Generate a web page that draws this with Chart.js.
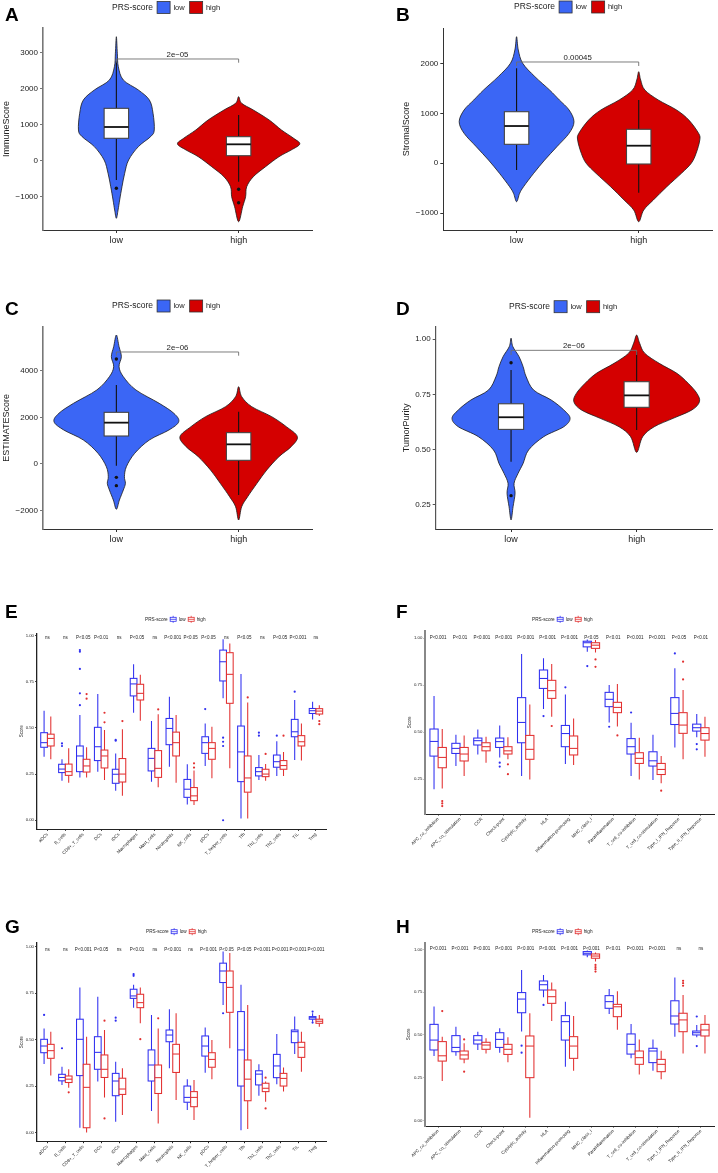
<!DOCTYPE html>
<html>
<head>
<meta charset="utf-8">
<title>PRS-score immune landscape</title>
<script src="https://cdn.jsdelivr.net/npm/chart.js@4.4.1/dist/chart.umd.min.js"></script>
<style>
  html, body { margin: 0; padding: 0; background: #fff; }
  #page { position: relative; width: 718px; height: 1173px; overflow: hidden; background: #fff; }
  canvas { position: absolute; }
</style>
</head>
<body>
<div id="page">
  <canvas id="panelA" width="359" height="290" style="left:0;top:0"></canvas>
  <canvas id="panelB" width="359" height="290" style="left:359px;top:0"></canvas>
  <canvas id="panelC" width="359" height="290" style="left:0;top:290px"></canvas>
  <canvas id="panelD" width="359" height="290" style="left:359px;top:290px"></canvas>
  <canvas id="panelE" width="359" height="290" style="left:0;top:590px"></canvas>
  <canvas id="panelF" width="359" height="290" style="left:359px;top:590px"></canvas>
  <canvas id="panelG" width="359" height="293" style="left:0;top:880px"></canvas>
  <canvas id="panelH" width="359" height="293" style="left:359px;top:880px"></canvas>
</div>
<script>
// ---------- data ----------
const groups = ['low', 'high'];
const legendTitle = 'PRS-score';

// violin outlines, top to bottom: [score, half width in category units]
const immuneLowShape = [[3433,0],[2972,0.008],[2600,0.016],[2230,0.057],[1953,0.18],[1675,0.27],[1305,0.30],[842,0.31],[657,0.28],[380,0.18],[8,0.10],[-361,0.068],[-733,0.046],[-1103,0.027],[-1380,0.014],[-1611,0]];
const immuneHighShape = [[1767,0],[1583,0.025],[1397,0.12],[1119,0.25],[842,0.35],[611,0.45],[453,0.5],[286,0.43],[100,0.33],[-178,0.22],[-456,0.12],[-733,0.066],[-1011,0.057],[-1289,0.033],[-1706,0]];
const stromalLowShape = [[2547,0],[2280,0.014],[2012,0.05],[1743,0.15],[1475,0.27],[1274,0.35],[1072,0.43],[837,0.47],[604,0.43],[334,0.33],[66,0.23],[-201,0.14],[-471,0.057],[-604,0.025],[-773,0]];
const stromalHighShape = [[1843,0],[1676,0.016],[1475,0.05],[1274,0.16],[1072,0.31],[871,0.41],[604,0.49],[469,0.5],[201,0.47],[0,0.43],[-201,0.35],[-471,0.23],[-738,0.12],[-940,0.041],[-1175,0]];
const estimateLowShape = [[5548,0],[5045,0.022],[4615,0.041],[4185,0.022],[3755,0.057],[3183,0.16],[2611,0.35],[2181,0.47],[1819,0.51],[1462,0.43],[1032,0.27],[460,0.15],[-115,0.082],[-545,0.066],[-832,0.074],[-1118,0.057],[-1548,0.025],[-1948,0]];
const estimateHighShape = [[3325,0],[2896,0.025],[2466,0.107],[2036,0.27],[1605,0.39],[1175,0.48],[745,0.43],[315,0.33],[-258,0.23],[-832,0.15],[-1405,0.074],[-1835,0.025],[-2409,0]];
const purityLowShape = [[1.005,0],[0.967,0.014],[0.921,0.064],[0.876,0.096],[0.831,0.12],[0.770,0.18],[0.725,0.32],[0.680,0.42],[0.642,0.47],[0.604,0.42],[0.559,0.26],[0.499,0.14],[0.438,0.096],[0.393,0.056],[0.348,0.024],[0.303,0.032],[0.242,0.016],[0.182,0]];
const purityHighShape = [[1.019,0],[0.982,0.024],[0.937,0.064],[0.891,0.18],[0.846,0.32],[0.801,0.41],[0.755,0.48],[0.717,0.5],[0.680,0.44],[0.642,0.29],[0.604,0.14],[0.559,0.048],[0.488,0]];

// box stats: [lower whisker, q1, median, q3, upper whisker]
const immuneBoxes = [[-547, 611, 925, 1444, 2750], [-594, 128, 444, 656, 1258]];
const immuneOutliers = [[1, -778], [2, -806], [2, -1178]];
const stromalBoxes = [[-135, 382, 750, 1038, 1911], [-592, -14, 354, 684, 1274]];
const stromalOutliers = [];
const estimateBoxes = [[-72, 1204, 1778, 2222, 3398], [-1333, 158, 845, 1348, 2250]];
const estimateOutliers = [[1, 4516], [1, -574], [1, -932]];
const purityBoxes = [[0.446, 0.592, 0.647, 0.708, 0.861], [0.589, 0.692, 0.746, 0.808, 0.944]];
const purityOutliers = [[1, 0.894], [1, 0.292]];

const scoreTicksA = [-1000, 0, 1000, 2000, 3000];
const scoreLabelsA = ['−1000', '0', '1000', '2000', '3000'];
const scoreTicksB = [-1000, 0, 1000, 2000];
const scoreLabelsB = ['−1000', '0', '1000', '2000'];
const scoreTicksC = [-2000, 0, 2000, 4000];
const scoreLabelsC = ['−2000', '0', '2000', '4000'];
const purityTicks = [0.25, 0.5, 0.75, 1];
const purityLabels = ['0.25', '0.50', '0.75', '1.00'];
const fracTicks = [0, 0.25, 0.5, 0.75, 1];
const fracLabels = ['0.00', '0.25', '0.50', '0.75', '1.00'];
const fracTicksF = [0.25, 0.5, 0.75, 1];
const fracLabelsF = ['0.25', '0.50', '0.75', '1.00'];

const immuneCells = ['aDCs', 'B_cells', 'CD8+_T_cells', 'DCs', 'iDCs', 'Macrophages', 'Mast_cells', 'Neutrophils',
  'NK_cells', 'pDCs', 'T_helper_cells', 'Tfh', 'Th1_cells', 'Th2_cells', 'TIL', 'Treg'];
const immuneFunctions = ['APC_co_inhibition', 'APC_co_stimulation', 'CCR', 'Check-point', 'Cytolytic_activity', 'HLA',
  'Inflammation-promoting', 'MHC_class_I', 'Parainflammation', 'T_cell_co-inhibition', 'T_cell_co-stimulation',
  'Type_I_IFN_Reponse', 'Type_II_IFN_Reponse'];

const pE = ['ns', 'ns', 'P<0.05', 'P<0.01', 'ns', 'P<0.05', 'ns', 'P<0.001', 'P<0.05', 'P<0.05', 'ns', 'P<0.05', 'ns', 'P<0.05', 'P<0.001', 'ns'];
const pF = ['P<0.001', 'P<0.01', 'P<0.001', 'P<0.001', 'P<0.001', 'P<0.001', 'P<0.001', 'P<0.05', 'P<0.01', 'P<0.001', 'P<0.001', 'P<0.05', 'P<0.01'];
const pG = ['ns', 'ns', 'P<0.001', 'P<0.05', 'ns', 'P<0.01', 'ns', 'P<0.001', 'ns', 'P<0.001', 'P<0.05', 'P<0.05', 'P<0.001', 'P<0.001', 'P<0.001', 'P<0.001'];
const pH = ['P<0.001', 'P<0.001', 'P<0.001', 'P<0.001', 'P<0.001', 'P<0.001', 'P<0.001', 'P<0.001', 'P<0.01', 'P<0.001', 'P<0.001', 'ns', 'ns'];

const boxE_low = [[0.344,0.395,0.42,0.474,0.593],[0.214,0.258,0.277,0.303,0.33],[0.232,0.263,0.348,0.402,0.57],[0.263,0.323,0.398,0.503,0.683],
  [0.16,0.2,0.249,0.276,0.362],[0.582,0.673,0.738,0.768,0.845],[0.209,0.267,0.335,0.389,0.537],[0.29,0.409,0.497,0.551,0.669],
  [0.085,0.124,0.168,0.221,0.303],[0.294,0.362,0.42,0.452,0.524],[0.66,0.754,0.858,0.921,0.98],[0.009,0.209,0.37,0.51,0.792],
  [0.218,0.24,0.263,0.285,0.353],[0.24,0.287,0.317,0.353,0.427],[0.326,0.452,0.479,0.546,0.651],[0.546,0.578,0.593,0.605,0.642]];
const boxE_high = [[0.33,0.402,0.443,0.466,0.561],[0.203,0.243,0.263,0.304,0.39],[0.232,0.261,0.294,0.33,0.395],[0.218,0.283,0.348,0.38,0.489],
  [0.132,0.207,0.25,0.334,0.493],[0.539,0.651,0.687,0.736,0.787],[0.178,0.232,0.281,0.377,0.574],[0.203,0.348,0.42,0.477,0.57],
  [0.083,0.106,0.132,0.177,0.269],[0.227,0.33,0.389,0.42,0.506],[0.281,0.633,0.79,0.907,0.957],[0.009,0.152,0.229,0.348,0.637],
  [0.214,0.236,0.25,0.276,0.305],[0.24,0.276,0.296,0.323,0.37],[0.323,0.402,0.425,0.458,0.524],[0.564,0.575,0.591,0.604,0.623]];
const outE_low = [[2,0.416],[2,0.402],[3,0.921],[3,0.912],[3,0.819],[3,0.687],[3,0.623],[5,0.435],[5,0.431],[10,0.602],
  [11,0.447],[11,0.425],[11,0.402],[11,0.0],[13,0.474],[13,0.458],[14,0.458],[15,0.696]];
const outE_high = [[3,0.683],[3,0.658],[4,0.582],[4,0.53],[5,0.537],[7,0.6],[9,0.308],[9,0.285],[12,0.665],[13,0.359],[14,0.458],[16,0.537],[16,0.52]];

const boxF_low = [[0.195,0.372,0.45,0.516,0.691],[0.319,0.386,0.413,0.44,0.486],[0.381,0.431,0.454,0.468,0.514],[0.365,0.418,0.449,0.468,0.535],
  [0.266,0.443,0.551,0.683,0.915],[0.622,0.732,0.785,0.83,0.892],[0.33,0.422,0.492,0.535,0.7],[0.927,0.953,0.975,0.983,0.992],
  [0.551,0.635,0.674,0.711,0.75],[0.266,0.383,0.422,0.465,0.55],[0.245,0.319,0.347,0.395,0.486],[0.418,0.54,0.599,0.683,0.839],
  [0.472,0.505,0.523,0.542,0.596]];
const boxF_high = [[0.2,0.31,0.365,0.418,0.516],[0.266,0.346,0.383,0.418,0.482],[0.337,0.4,0.422,0.443,0.475],[0.355,0.383,0.4,0.422,0.472],
  [0.248,0.355,0.408,0.482,0.647],[0.581,0.679,0.72,0.775,0.862],[0.324,0.378,0.413,0.479,0.572],[0.923,0.945,0.962,0.975,0.989],
  [0.53,0.603,0.631,0.658,0.755],[0.248,0.333,0.36,0.39,0.47],[0.227,0.274,0.301,0.333,0.372],[0.355,0.493,0.537,0.603,0.723],
  [0.369,0.457,0.492,0.523,0.581]];
const outF_low = [[4,0.337],[4,0.316],[6,0.585],[7,0.738],[8,0.851],[9,0.528],[10,0.604],[12,0.918],[13,0.436],[13,0.408]];
const outF_high = [[1,0.133],[1,0.12],[1,0.106],[4,0.328],[4,0.276],[6,0.532],[8,0.886],[8,0.847],[9,0.482],[11,0.188],[12,0.874],[12,0.78]];

const boxG_low = [[0.369,0.43,0.466,0.502,0.56],[0.257,0.279,0.297,0.314,0.355],[0.027,0.307,0.502,0.61,0.781],[0.275,0.341,0.432,0.516,0.731],
  [0.059,0.199,0.278,0.319,0.382],[0.672,0.722,0.735,0.771,0.795],[0.117,0.278,0.364,0.445,0.633],[0.346,0.489,0.525,0.552,0.663],
  [0.122,0.164,0.19,0.251,0.287],[0.323,0.412,0.466,0.52,0.565],[0.687,0.807,0.869,0.911,0.974],[0.014,0.251,0.445,0.651,0.795],
  [0.199,0.257,0.315,0.333,0.368],[0.26,0.296,0.359,0.421,0.53],[0.423,0.484,0.543,0.552,0.624],[0.597,0.61,0.618,0.624,0.642]];
const boxG_high = [[0.307,0.4,0.441,0.475,0.543],[0.242,0.27,0.288,0.305,0.341],[0.002,0.027,0.244,0.368,0.516],[0.19,0.297,0.341,0.418,0.552],
  [0.095,0.206,0.235,0.293,0.346],[0.588,0.672,0.699,0.744,0.78],[0.05,0.211,0.296,0.364,0.56],[0.176,0.324,0.423,0.475,0.642],
  [0.068,0.14,0.19,0.221,0.283],[0.287,0.352,0.394,0.43,0.498],[0.454,0.647,0.781,0.869,0.965],[0.02,0.172,0.288,0.391,0.687],
  [0.167,0.221,0.239,0.266,0.275],[0.221,0.251,0.292,0.319,0.351],[0.328,0.405,0.459,0.486,0.543],[0.57,0.588,0.599,0.61,0.633]];
const outG_low = [[1,0.633],[2,0.454],[5,0.618],[5,0.602],[6,0.852],[6,0.843],[11,0.642],[16,0.651],[16,0.592]];
const outG_high = [[2,0.217],[4,0.602],[4,0.077],[6,0.503],[7,0.615],[13,0.296],[13,0.131]];

const boxH_low = [[0.377,0.412,0.47,0.562,0.666],[0.378,0.402,0.427,0.496,0.548],[0.412,0.447,0.47,0.496,0.519],[0.396,0.427,0.474,0.513,0.539],
  [0.52,0.63,0.71,0.748,0.88],[0.721,0.763,0.794,0.816,0.851],[0.314,0.47,0.578,0.613,0.695],[0.955,0.969,0.978,0.988,0.994],
  [0.623,0.656,0.695,0.73,0.769],[0.363,0.388,0.445,0.506,0.564],[0.291,0.338,0.406,0.422,0.474],[0.49,0.564,0.611,0.7,0.837],
  [0.486,0.5,0.513,0.523,0.558]];
const boxH_high = [[0.23,0.347,0.378,0.461,0.49],[0.334,0.359,0.383,0.406,0.451],[0.392,0.416,0.441,0.457,0.48],[0.34,0.386,0.416,0.445,0.486],
  [0.016,0.25,0.435,0.494,0.627],[0.582,0.685,0.724,0.763,0.807],[0.291,0.363,0.435,0.49,0.611],[0.93,0.949,0.962,0.974,0.982],
  [0.53,0.607,0.665,0.679,0.756],[0.269,0.328,0.367,0.406,0.474],[0.24,0.285,0.328,0.357,0.408],[0.392,0.519,0.588,0.627,0.734],
  [0.392,0.494,0.529,0.562,0.617]];
const outH_low = [[5,0.437],[5,0.396],[6,0.676],[13,0.608],[13,0.435]];
const outH_high = [[1,0.64],[2,0.474],[2,0.285],[8,0.91],[8,0.897],[8,0.885],[8,0.871],[12,0.817],[12,0.803],[12,0.788]];

// ---------- drawing helpers ----------
const FONT = '"Liberation Sans", Arial, Helvetica, sans-serif';
Chart.defaults.font.family = FONT;
Chart.defaults.color = '#222';

const VIOLIN_FILL = ['#3b66f5', '#d40000'];
const BOX_LINE = ['#2f2ff0', '#e23030'];
const DODGE = 0.1875;

function closedSpline(ctx, p) {
  const n = p.length;
  ctx.moveTo(p[0][0], p[0][1]);
  for (let i = 0; i < n; i++) {
    const p0 = p[(i - 1 + n) % n], p1 = p[i], p2 = p[(i + 1) % n], p3 = p[(i + 2) % n];
    ctx.bezierCurveTo(p1[0] + (p2[0] - p0[0]) / 6, p1[1] + (p2[1] - p0[1]) / 6,
      p2[0] - (p3[0] - p1[0]) / 6, p2[1] - (p3[1] - p1[1]) / 6, p2[0], p2[1]);
  }
  ctx.closePath();
}

function drawViolin(ctx, xs, ys, pos, shape, fill) {
  const cx = xs.getPixelForValue(pos);
  const unit = xs.getPixelForValue(pos + 1) - cx;
  const right = shape.map(([v, w]) => [cx + w * unit, ys.getPixelForValue(v)]);
  const left = shape.slice().reverse().map(([v, w]) => [cx - w * unit, ys.getPixelForValue(v)]);
  ctx.beginPath();
  closedSpline(ctx, right.concat(left.slice(1, -1)));
  ctx.fillStyle = fill;
  ctx.fill();
  ctx.strokeStyle = '#1a1a1a';
  ctx.lineWidth = 0.8;
  ctx.stroke();
}

function drawBox(ctx, xs, ys, b) {
  const [lo, q1, med, q3, hi] = b.stats;
  const cx = xs.getPixelForValue(b.x);
  const half = xs.getPixelForValue(b.x + b.half) - cx;
  const py = v => ys.getPixelForValue(v);
  ctx.strokeStyle = b.whisker;
  ctx.lineWidth = b.lw;
  ctx.beginPath();
  ctx.moveTo(cx, py(hi)); ctx.lineTo(cx, py(q3));
  ctx.moveTo(cx, py(q1)); ctx.lineTo(cx, py(lo));
  ctx.stroke();
  ctx.fillStyle = '#fff';
  ctx.fillRect(cx - half, py(q3), 2 * half, py(q1) - py(q3));
  ctx.strokeStyle = b.line;
  ctx.strokeRect(cx - half, py(q3), 2 * half, py(q1) - py(q3));
  ctx.strokeStyle = b.median;
  ctx.lineWidth = b.medLw;
  ctx.beginPath();
  ctx.moveTo(cx - half, py(med)); ctx.lineTo(cx + half, py(med));
  ctx.stroke();
}

function drawLetter(ctx, p) {
  ctx.font = 'bold 19px ' + FONT;
  ctx.fillStyle = '#000';
  ctx.textAlign = 'left';
  ctx.textBaseline = 'alphabetic';
  ctx.fillText(p.letter, p.letterPos[0], p.letterPos[1]);
}

function drawFillLegend(ctx, lg) {
  let x = lg.x;
  ctx.textAlign = 'left';
  ctx.textBaseline = 'middle';
  ctx.font = '8.5px ' + FONT;
  ctx.fillStyle = '#222';
  ctx.fillText(legendTitle, x, lg.y);
  x += ctx.measureText(legendTitle).width + 4;
  groups.forEach((g, i) => {
    ctx.fillStyle = VIOLIN_FILL[i];
    ctx.fillRect(x, lg.y - 6, 13, 12);
    ctx.strokeStyle = '#333';
    ctx.lineWidth = 0.8;
    ctx.strokeRect(x, lg.y - 6, 13, 12);
    x += 16.3;
    ctx.font = '7.5px ' + FONT;
    ctx.fillStyle = '#222';
    ctx.fillText(g, x, lg.y);
    x += ctx.measureText(g).width + 5;
  });
}

function drawBoxLegend(ctx, lg) {
  let x = lg.x;
  ctx.textAlign = 'left';
  ctx.textBaseline = 'middle';
  ctx.font = '4.7px ' + FONT;
  ctx.fillStyle = '#222';
  ctx.fillText(legendTitle, x, lg.y);
  x += ctx.measureText(legendTitle).width + 2.5;
  groups.forEach((g, i) => {
    ctx.strokeStyle = BOX_LINE[i];
    ctx.lineWidth = 0.8;
    ctx.strokeRect(x, lg.y - 2, 6, 4);
    ctx.beginPath();
    ctx.moveTo(x + 3, lg.y - 3.5); ctx.lineTo(x + 3, lg.y - 2);
    ctx.moveTo(x + 3, lg.y + 2); ctx.lineTo(x + 3, lg.y + 3.5);
    ctx.moveTo(x, lg.y); ctx.lineTo(x + 6, lg.y);
    ctx.stroke();
    x += 8.5;
    ctx.fillStyle = '#222';
    ctx.fillText(g, x, lg.y);
    x += ctx.measureText(g).width + 2.5;
  });
}

function panelPlugin(p) {
  return {
    id: 'panel' + p.letter,
    beforeDatasetsDraw(chart) {
      const { ctx, scales: { x, y } } = chart;
      ctx.save();
      (p.violins || []).forEach(v => drawViolin(ctx, x, y, v.pos, v.shape, v.fill));
      (p.boxes || []).forEach(b => drawBox(ctx, x, y, b));
      ctx.restore();
    },
    afterDraw(chart) {
      const { ctx, scales: { x, y } } = chart;
      ctx.save();
      if (p.bracket) {
        const x1 = x.getPixelForValue(1), x2 = x.getPixelForValue(2);
        const yTop = y.getPixelForValue(p.bracket.y), yTip = y.getPixelForValue(p.bracket.tip);
        ctx.strokeStyle = '#6e6e6e';
        ctx.lineWidth = 0.9;
        ctx.beginPath();
        ctx.moveTo(x1, yTip); ctx.lineTo(x1, yTop); ctx.lineTo(x2, yTop); ctx.lineTo(x2, yTip);
        ctx.stroke();
        ctx.fillStyle = '#222';
        ctx.font = '7.8px ' + FONT;
        ctx.textAlign = 'center';
        ctx.textBaseline = 'alphabetic';
        ctx.fillText(p.bracket.label, (x1 + x2) / 2, yTop - 2.2);
      }
      if (p.pLabels) {
        ctx.fillStyle = '#222';
        ctx.font = '4.5px ' + FONT;
        ctx.textAlign = 'center';
        ctx.textBaseline = 'middle';
        p.pLabels.forEach((t, i) => ctx.fillText(t, x.getPixelForValue(i + 1), y.getPixelForValue(p.pY)));
      }
      if (p.legendKind === 'fill') drawFillLegend(ctx, p.legend);
      else drawBoxLegend(ctx, p.legend);
      drawLetter(ctx, p);
      ctx.restore();
    }
  };
}

function scalesFor(p, W, H) {
  const cats = p.categories;
  return {
    x: {
      type: 'linear', min: 0.4, max: cats.length + 0.6,
      afterBuildTicks: s => { s.ticks = cats.map((_, i) => ({ value: i + 1 })); },
      afterFit: s => { s.height = H - p.area.bottom; },
      border: { display: true, color: p.xAxisColor, width: p.xAxisWidth },
      grid: { display: true, drawOnChartArea: false, drawTicks: true, tickLength: p.tickLen, color: p.xAxisColor },
      ticks: {
        autoSkip: false, maxRotation: p.rot, minRotation: p.rot, padding: p.xPad,
        color: '#222', font: { size: p.xFont },
        callback: v => cats[Math.round(v) - 1]
      }
    },
    y: {
      type: 'linear', min: p.yMin, max: p.yMax,
      afterBuildTicks: s => { s.ticks = p.yTicks.map(v => ({ value: v })); },
      afterFit: s => { s.width = p.area.left; },
      border: { display: true, color: p.yAxisColor, width: p.yAxisWidth },
      grid: { display: true, drawOnChartArea: false, drawTicks: true, tickLength: p.tickLen, color: p.yAxisColor },
      ticks: { padding: p.yPad, color: '#222', font: { size: p.yFont }, callback: (v, i) => p.yTickLabels[i] },
      title: { display: true, text: p.yTitle, color: '#222', font: { size: p.titleFont }, padding: { top: p.titlePad, bottom: 0 } }
    }
  };
}

function buildChart(p, datasets) {
  const el = document.getElementById(p.canvas);
  const W = el.width, H = el.height;
  return new Chart(el, {
    type: 'scatter',
    data: { datasets },
    options: {
      responsive: false,
      animation: false,
      devicePixelRatio: 1,
      layout: { padding: { left: 0, top: p.area.top, right: W - p.area.right, bottom: 0 } },
      plugins: { legend: { display: false }, tooltip: { enabled: false } },
      scales: scalesFor(p, W, H)
    },
    plugins: [panelPlugin(p)]
  });
}

function violinPanel(p) {
  p.categories = groups;
  p.legendKind = 'fill';
  p.rot = 0; p.xPad = 2; p.tickLen = 3; p.yPad = 2;
  p.xFont = 9; p.yFont = 8; p.titleFont = 9;
  p.xAxisColor = '#333'; p.xAxisWidth = 1;
  p.violins = p.shapes.map((s, i) => ({ pos: i + 1, shape: s, fill: VIOLIN_FILL[i] }));
  p.boxes = p.stats.map((s, i) => ({ x: i + 1, half: 0.1, stats: s, line: '#444', whisker: '#111', median: '#111', lw: 1.1, medLw: 1.8 }));
  buildChart(p, [{
    data: p.outliers.map(([c, v]) => ({ x: c, y: v })),
    pointRadius: 1.7, backgroundColor: '#111', borderWidth: 0
  }]);
}

function boxPanel(p) {
  p.legendKind = 'box';
  p.rot = 45; p.xPad = 1; p.tickLen = 1.5; p.yPad = 1.2;
  p.xFont = 4.5; p.yFont = 4.3; p.titleFont = 4.6;
  p.xAxisColor = '#222'; p.xAxisWidth = 1;
  p.boxes = [];
  [p.low, p.high].forEach((set, g) => set.forEach((s, i) => p.boxes.push({
    x: i + 1 + (g === 0 ? -DODGE : DODGE), half: DODGE, stats: s,
    line: BOX_LINE[g], whisker: BOX_LINE[g], median: BOX_LINE[g], lw: 1.05, medLw: 1.05
  })));
  const outSet = (list, g) => ({
    data: list.map(([c, v]) => ({ x: c + (g === 0 ? -DODGE : DODGE), y: v })),
    pointRadius: 1.1, backgroundColor: BOX_LINE[g], borderWidth: 0
  });
  buildChart(p, [outSet(p.lowOut, 0), outSet(p.highOut, 1)]);
}

// ---------- panels ----------
violinPanel({
  canvas: 'panelA', letter: 'A', letterPos: [5, 21],
  area: { left: 43, top: 28, right: 312, bottom: 230 },
  yMin: -1936, yMax: 3675, yTicks: scoreTicksA, yTickLabels: scoreLabelsA,
  yTitle: 'ImmuneScore', titlePad: 1.6, yAxisColor: '#777', yAxisWidth: 1.6,
  shapes: [immuneLowShape, immuneHighShape], stats: immuneBoxes, outliers: immuneOutliers,
  bracket: { y: 2814, tip: 2711, label: '2e−05' },
  legend: { x: 112, y: 7.5 }
});
violinPanel({
  canvas: 'panelB', letter: 'B', letterPos: [37, 21],
  area: { left: 84.3, top: 28, right: 353, bottom: 230 },
  yMin: -1342, yMax: 2722, yTicks: scoreTicksB, yTickLabels: scoreLabelsB,
  yTitle: 'StromalScore', titlePad: 42.6, yAxisColor: '#333', yAxisWidth: 1,
  shapes: [stromalLowShape, stromalHighShape], stats: stromalBoxes, outliers: stromalOutliers,
  bracket: { y: 2038, tip: 1958, label: '0.00045' },
  legend: { x: 155, y: 7 }
});
violinPanel({
  canvas: 'panelC', letter: 'C', letterPos: [5, 25],
  area: { left: 43, top: 36.7, right: 312, bottom: 239 },
  yMin: -2796, yMax: 5905, yTicks: scoreTicksC, yTickLabels: scoreLabelsC,
  yTitle: 'ESTIMATEScore', titlePad: 1.3, yAxisColor: '#777', yAxisWidth: 1.6,
  shapes: [estimateLowShape, estimateHighShape], stats: estimateBoxes, outliers: estimateOutliers,
  bracket: { y: 4817, tip: 4658, label: '2e−06' },
  legend: { x: 112, y: 16 }
});
violinPanel({
  canvas: 'panelD', letter: 'D', letterPos: [37, 25],
  area: { left: 76.7, top: 36.7, right: 353, bottom: 239 },
  yMin: 0.141, yMax: 1.057, yTicks: purityTicks, yTickLabels: purityLabels,
  yTitle: 'TumorPurity', titlePad: 42.6, yAxisColor: '#555', yAxisWidth: 1.2,
  shapes: [purityLowShape, purityHighShape], stats: purityBoxes, outliers: purityOutliers,
  bracket: { y: 0.95, tip: 0.929, label: '2e−06' },
  legend: { x: 150, y: 16.7 }
});

boxPanel({
  canvas: 'panelE', letter: 'E', letterPos: [5, 28],
  area: { left: 36.7, top: 43.3, right: 326.7, bottom: 239.3 },
  categories: immuneCells, yMin: -0.049, yMax: 1.012, yTicks: fracTicks, yTickLabels: fracLabels,
  yTitle: 'Score', titlePad: 18.9, yAxisColor: '#222', yAxisWidth: 1.3,
  low: boxE_low, high: boxE_high, lowOut: outE_low, highOut: outE_high,
  pLabels: pE, pY: 0.988, legend: { x: 145, y: 29.3 }
});
boxPanel({
  canvas: 'panelF', letter: 'F', letterPos: [37, 28],
  area: { left: 66, top: 40.7, right: 356, bottom: 224 },
  categories: immuneFunctions, yMin: 0.064, yMax: 1.039, yTicks: fracTicksF, yTickLabels: fracLabelsF,
  yTitle: 'Score', titlePad: 47.9, yAxisColor: '#888', yAxisWidth: 2,
  low: boxF_low, high: boxF_high, lowOut: outF_low, highOut: outF_high,
  pLabels: pF, pY: 1.004, legend: { x: 173, y: 29.3 }
});
boxPanel({
  canvas: 'panelG', letter: 'G', letterPos: [5, 53],
  area: { left: 36.7, top: 62.7, right: 326.7, bottom: 261.7 },
  categories: immuneCells, yMin: -0.048, yMax: 1.021, yTicks: fracTicks, yTickLabels: fracLabels,
  yTitle: 'Score', titlePad: 18.9, yAxisColor: '#222', yAxisWidth: 1.3,
  low: boxG_low, high: boxG_high, lowOut: outG_low, highOut: outG_high,
  pLabels: pG, pY: 0.982, legend: { x: 146, y: 51.7 }
});
boxPanel({
  canvas: 'panelH', letter: 'H', letterPos: [37, 53],
  area: { left: 66, top: 62.7, right: 356, bottom: 246 },
  categories: immuneFunctions, yMin: -0.033, yMax: 1.04, yTicks: fracTicks, yTickLabels: fracLabels,
  yTitle: 'Score', titlePad: 47.2, yAxisColor: '#888', yAxisWidth: 2,
  low: boxH_low, high: boxH_high, lowOut: outH_low, highOut: outH_high,
  pLabels: pH, pY: 1.002, legend: { x: 173, y: 51.7 }
});
</script>
</body>
</html>
